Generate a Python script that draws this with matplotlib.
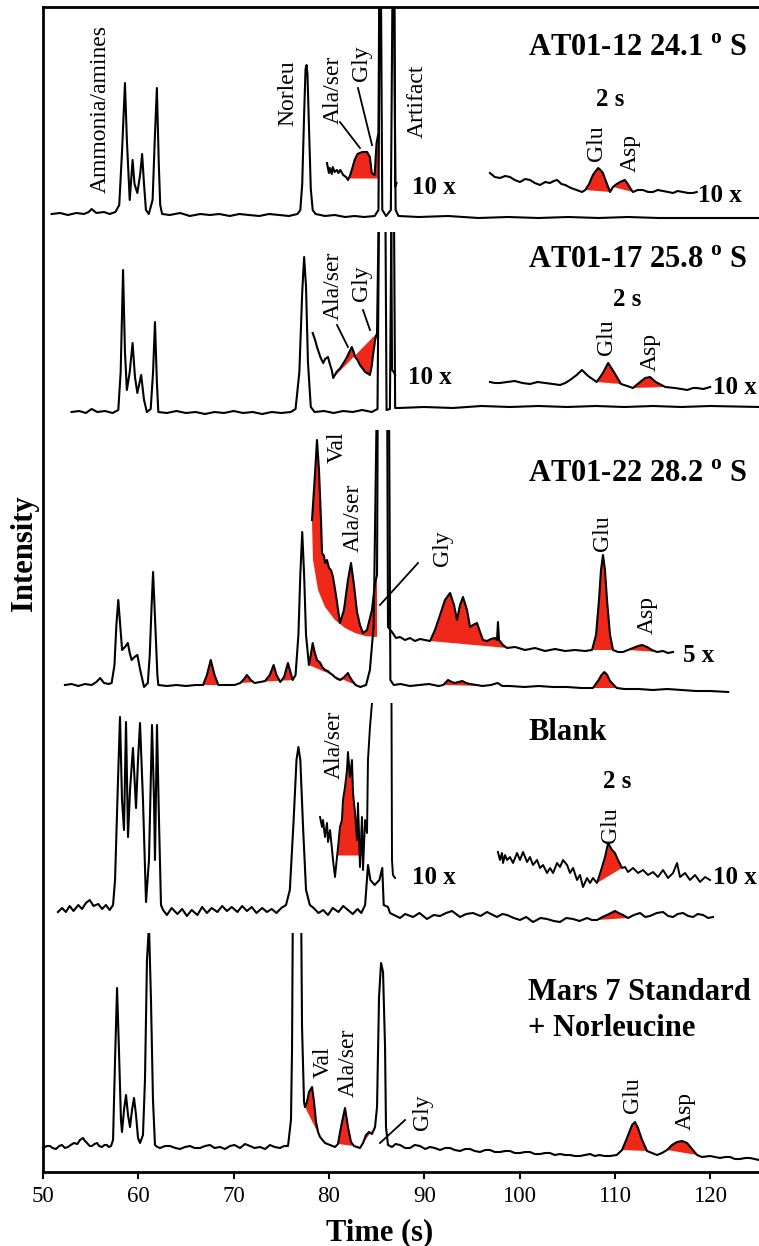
import numpy as np
import matplotlib.pyplot as plt
from matplotlib.patches import Rectangle

plt.rcParams['font.family'] = ['Liberation Serif', 'DejaVu Serif']
plt.rcParams['mathtext.fontset'] = 'custom'
plt.rcParams['mathtext.rm'] = 'Liberation Serif'
plt.rcParams['mathtext.bf'] = 'Liberation Serif:bold'

RED = '#f0281a'

# %% data: (retention time s, signal above the trace's own baseline, a.u.)

# AT01-12 24.1 S
p1_main = [(50.9, 0), (51.8, 1), (52.6, -1), (53.5, 1), (54.3, 0), (54.8, 2), (55.1, 5), (55.6, 1), (56.4, 2),
           (57.0, 0), (57.6, 2), (58.0, 9), (58.3, 64), (58.6, 131), (58.8, 74), (59.1, 14), (59.4, 54), (59.6, 30),
           (59.9, 21), (60.2, 40), (60.4, 60), (60.6, 30), (60.8, 4), (61.1, 0), (61.5, 14), (61.75, 80), (61.95, 126),
           (62.15, 50), (62.3, 9), (62.5, 0), (63.3, -1), (64.4, 1), (65.4, -2), (66.5, 0), (67.5, -1), (68.5, 0),
           (69.6, -2), (70.6, 0), (71.6, -1), (72.7, -2), (73.7, 0), (74.8, -1), (75.8, -2), (76.7, 0), (77.0, 4),
           (77.2, 30), (77.4, 100), (77.55, 145), (77.65, 149), (77.75, 140), (77.9, 90), (78.1, 25), (78.3, 4),
           (78.6, 0), (79.6, -2), (80.6, -1), (81.7, -3), (82.7, -2), (83.7, -3), (84.8, -2), (85.2, 4), (85.4, 330),
           (85.6, 4), (86.0, -2), (86.5, 4), (86.75, 330), (87.0, 4), (87.3, -2), (89.4, -3), (92.5, -2), (95.7, -4),
           (98.8, -3), (102.0, -4), (105.1, -3), (108.3, -4), (111.4, -3), (114.6, -4), (117.7, -4), (120.9, -4),
           (125.2, -4)]
p1_ins_left = [(79.8, 15), (80.0, 5), (80.1, 10), (80.3, 4), (80.4, 11), (80.6, 6), (80.85, 8), (81.0, 5), (81.2, 8),
               (81.5, 3), (81.8, 1), (82.0, -2), (82.2, 2), (82.4, 8), (82.7, 18), (83.0, 24), (83.5, 26), (84.0, 26),
               (84.3, 21), (84.5, 5), (84.8, 3), (85.0, 35), (85.2, 45), (85.4, 400), (86.8, 400), (86.95, -9),
               (87.1, -5)]
p1_ins_right = [(96.9, 19), (97.4, 15), (97.95, 14), (98.5, 16), (99.0, 15), (99.5, 12), (100.05, 10), (100.6, 13),
                (101.1, 12), (101.6, 9), (102.15, 7), (102.7, 10), (103.2, 9), (103.6, 11), (103.95, 12), (104.4, 8),
                (104.8, 7), (105.4, 4), (106.0, 2), (106.55, 0), (106.9, 2), (107.3, 8), (107.7, 17), (108.0, 21),
                (108.25, 24), (108.5, 22), (108.75, 19), (109.1, 10), (109.5, 0), (109.8, 5), (110.2, 8), (110.55, 10),
                (110.8, 11), (111.05, 12), (111.3, 9), (111.6, 4), (111.9, 0), (112.4, 2), (112.95, 2), (113.5, 0),
                (114.0, 0), (114.5, 2), (115.05, 1), (115.6, 0), (116.1, -1), (116.6, 1), (117.15, 0), (117.7, -1),
                (118.2, -1), (118.6, 0)]

# AT01-17 25.8 S
p2_main = [(53.0, 0), (53.8, 1), (54.5, -1), (55.1, 3), (55.7, 0), (56.5, 1), (57.3, -1), (57.9, 2), (58.15, 40),
           (58.4, 142), (58.6, 60), (58.8, 22), (59.1, 40), (59.4, 69), (59.65, 35), (59.9, 19), (60.1, 28), (60.3, 37),
           (60.6, 12), (60.9, 0), (61.3, 3), (61.55, 40), (61.75, 90), (61.95, 30), (62.1, 0), (63.0, -1), (64.0, 1),
           (65.0, -1), (66.0, 0), (67.0, -2), (68.0, 0), (69.0, -1), (70.0, 1), (71.0, -1), (72.0, 0), (73.0, -2),
           (74.0, 0), (75.0, -1), (76.0, 0), (76.5, 3), (76.9, 40), (77.2, 120), (77.4, 155), (77.6, 125), (77.8, 50),
           (78.1, 5), (78.5, 0), (79.5, 1), (80.5, -1), (81.5, 1), (82.5, 0), (83.5, 2), (84.5, 0), (85.1, 3),
           (85.3, 250), (85.9, 250), (86.05, 2), (86.4, 3), (86.6, 250), (86.8, 250), (86.95, 4), (87.3, 4), (90.0, 5),
           (93.0, 4), (96.0, 6), (99.0, 5), (102.0, 6), (105.0, 5), (108.0, 6), (111.0, 5), (114.0, 6), (117.0, 5),
           (120.0, 6), (125.2, 5)]
p2_ins_left = [(78.3, 45), (78.55, 38), (78.75, 31), (79.1, 21), (79.4, 15), (79.6, 19), (79.9, 21), (80.1, 14),
               (80.3, 8), (80.45, 0), (80.8, 6), (81.2, 10), (81.6, 16), (81.9, 21), (82.2, 27), (82.4, 31), (82.6, 26),
               (82.75, 21), (83.0, 18), (83.25, 13), (83.5, 10), (83.8, 6), (84.0, 5), (84.3, 3), (84.5, 12), (84.6, 21),
               (84.85, 38), (85.05, 45), (85.35, 250), (86.5, 250), (86.62, 8), (86.8, 6), (86.95, 3)]
p2_ins_right = [(96.9, 3), (97.4, 2), (97.95, 2), (98.7, 3), (99.5, 4), (100.3, 2), (101.1, 1), (101.9, 3),
                (102.7, 2), (103.5, 1), (104.25, 0), (104.8, 2), (105.3, 5), (106.0, 10), (106.55, 15), (107.2, 9),
                (108.1, 3), (108.75, 12), (109.3, 22), (109.9, 13), (110.65, 1), (111.3, -1), (111.9, -3), (112.65, 3),
                (113.2, 7), (113.7, 8), (114.3, 3), (115.3, -2), (116.3, -3), (117.0, -4), (117.6, -5), (118.2, -3),
                (118.6, -3), (119.3, -4), (120.0, -2)]

# AT01-22 28.2 S (1x and 5x)
p3_main = [(52.3, 0), (53.0, 1), (53.7, -1), (54.4, 1), (55.1, 0), (55.6, 3), (56.0, 7), (56.4, 2), (56.9, 1),
           (57.2, 2), (57.5, 20), (57.7, 60), (57.9, 85), (58.1, 60), (58.3, 35), (58.6, 38), (58.9, 42), (59.1, 32),
           (59.3, 25), (59.6, 28), (59.9, 30), (60.2, 15), (60.6, -2), (61.0, 2), (61.2, 30), (61.4, 80), (61.55, 113),
           (61.7, 80), (61.85, 45), (62.0, 10), (62.1, 0), (63.0, -1), (64.0, 0), (65.0, -1), (66.0, 0), (66.8, 0),
           (67.2, 10), (67.6, 25), (68.0, 10), (68.4, 0), (69.3, 0), (70.1, 0), (70.7, 2), (71.1, 6), (71.4, 10),
           (71.8, 5), (72.2, 2), (72.8, 3), (73.3, 4), (73.8, 10), (74.2, 20), (74.5, 10), (74.9, 3), (75.3, 8),
           (75.7, 22), (76.0, 12), (76.2, 5), (76.5, 10), (76.8, 50), (77.0, 110), (77.2, 153), (77.4, 110),
           (77.6, 50), (77.9, 20), (78.1, 30), (78.3, 42), (78.5, 33), (78.75, 25), (79.1, 22), (79.3, 18), (79.6, 15),
           (79.9, 14), (80.1, 12), (80.4, 10), (80.6, 8), (80.9, 6), (81.2, 5), (81.6, 8), (82.0, 12), (82.2, 8),
           (82.4, 5), (82.8, 0), (83.3, -2), (83.9, 0), (84.3, 15), (84.7, 60), (85.05, 300), (86.3, 300), (86.45, 5),
           (86.8, 0), (87.5, 1), (88.5, -1), (89.5, 0), (90.5, 1), (91.5, -1), (92.0, 0), (92.5, 5), (92.9, 3),
           (93.2, 2), (93.6, 3), (94.0, 4), (94.4, 2), (94.8, 1), (95.5, 0), (96.1, -1), (97.0, 0), (97.7, 2),
           (98.2, -1), (99.0, -1), (100.5, -2), (102.0, -1), (103.5, -2), (105.0, -2), (106.5, -3), (107.7, -3),
           (108.3, 5), (108.6, 10), (108.9, 13), (109.2, 10), (109.5, 4), (110.2, -3), (111.0, -4), (112.5, -4),
           (114.0, -5), (115.5, -4), (117.0, -5), (118.5, -6), (120.0, -6), (121.9, -7)]
p3_x5 = [(78.23, 130), (78.33, 145), (78.5, 170), (78.75, 210), (78.96, 180), (79.17, 130), (79.28, 97), (79.49, 94),
         (79.59, 87), (79.8, 90), (80.01, 82), (80.22, 80), (80.43, 73), (80.74, 55), (81.16, 27), (81.58, 40),
         (82.0, 70), (82.32, 87), (82.63, 65), (82.95, 38), (83.26, 25), (83.58, 17), (84.0, 20), (84.52, 40),
         (84.84, 67), (85.05, 75), (85.15, 300), (86.1, 300), (86.2, 23), (86.62, 18), (87.04, 12), (87.46, 13),
         (87.99, 10), (88.51, 12), (89.03, 9), (89.56, 11), (90.08, 10), (90.61, 9), (91.13, 20), (91.66, 35),
         (92.18, 50), (92.71, 57), (93.13, 45), (93.44, 30), (93.76, 45), (94.07, 53), (94.49, 40), (94.81, 23),
         (95.12, 25), (95.54, 27), (95.86, 18), (96.17, 10), (96.59, 9), (97.01, 11), (97.43, 12), (97.64, 10),
         (97.74, 28), (97.85, 10), (98.27, 5), (98.69, 2), (99.53, 3), (100.58, 0), (101.63, 2), (102.68, -1),
         (103.73, 1), (104.78, -1), (105.82, 0), (106.87, -1), (107.61, 0), (108.03, 15), (108.34, 50), (108.55, 80),
         (108.76, 95), (108.97, 80), (109.18, 50), (109.5, 15), (109.81, 0), (110.34, -2), (110.86, -2), (111.39, 0),
         (111.91, 2), (112.44, 4), (112.86, 5), (113.38, 3), (113.9, 0), (114.43, -2), (115.06, -1), (115.58, -3),
         (116.11, -2)]
# tail of the unresolved peak under Val / Ala/ser / Gly (5x trace)
p3_x5_tail = [(78.23, 127), (78.33, 90), (78.86, 60), (79.59, 43), (80.64, 30), (81.69, 22), (82.74, 17),
              (83.79, 14), (85.05, 13)]

# Blank
p4_main = [(51.57, -2), (52.0, 2), (52.4, -2), (52.8, 4), (53.2, -1), (53.7, 5), (54.1, 1), (54.5, 7), (54.9, 10),
           (55.3, 4), (55.8, 6), (56.2, 1), (56.6, 5), (57.0, 0), (57.35, 5), (57.56, 30), (57.87, 130), (58.08, 193),
           (58.29, 110), (58.5, 80), (58.71, 188), (58.92, 73), (59.13, 120), (59.44, 162), (59.76, 102), (59.97, 150),
           (60.18, 187), (60.49, 110), (60.81, 8), (61.12, 50), (61.44, 185), (61.65, 110), (61.75, 50), (61.96, 185),
           (62.17, 90), (62.38, 5), (62.6, 0), (63.0, -5), (63.5, 2), (64.1, -4), (64.6, 1), (65.1, -6), (65.6, 0),
           (66.2, -5), (66.7, 3), (67.2, -3), (67.7, 2), (68.3, -2), (68.8, 4), (69.3, -1), (69.8, 3), (70.4, -2),
           (70.9, 4), (71.4, -1), (71.9, 3), (72.4, -3), (73.0, 2), (73.5, -2), (74.0, 1), (74.5, -3), (75.0, 2),
           (75.5, 5), (75.9, 20), (76.3, 90), (76.6, 150), (76.8, 163), (77.0, 150), (77.3, 80), (77.6, 20), (78.0, 5),
           (78.4, 2), (78.9, -3), (79.4, 0), (79.9, -5), (80.4, 2), (81.0, -2), (81.5, 4), (82.0, 0), (82.5, -4),
           (83.0, 1), (83.4, -3), (83.8, 5), (84.1, 45), (84.35, 30), (84.8, 25), (85.3, 30), (85.6, 42), (85.75, 5),
           (86.2, 3), (86.41, -3), (87.46, -8), (88.0, -4), (88.83, -7), (89.5, -3), (90.29, -9), (91.0, -5),
           (91.66, -6), (92.3, -3), (92.92, -1), (93.76, -7), (94.4, -4), (95.12, -3), (95.9, -6), (96.59, -2),
           (97.64, -7), (98.2, -4), (98.69, -5), (99.4, -8), (100.05, -10), (100.7, -7), (101.42, -12), (102.2, -8),
           (102.89, -9), (103.6, -11), (104.25, -12), (104.9, -8), (105.62, -9), (106.3, -11), (107.09, -8),
           (107.6, -10), (108.13, -10), (108.7, -7), (109.18, -5), (109.6, -3), (110.02, -1), (110.4, -3),
           (110.86, -5), (111.39, -8), (112.0, -5), (112.65, -3), (113.2, -7), (113.69, -6), (114.4, -3), (115.06, -2),
           (115.6, -6), (116.11, -7), (116.6, -4), (117.16, -3), (117.7, -6), (118.21, -7), (118.7, -4), (119.26, -5),
           (119.8, -8), (120.3, -7)]
p4_ins_left = [(79.07, 38), (79.28, 28), (79.38, 35), (79.59, 18), (79.8, 32), (79.91, 13), (80.12, 25), (80.33, 5),
               (80.43, -5), (80.64, -22), (80.85, -2), (80.96, 8), (81.16, 28), (81.37, 35), (81.48, 55), (81.69, 68),
               (81.9, 85), (82.0, 103), (82.21, 78), (82.42, 95), (82.53, 62), (82.74, 42), (82.95, 15), (83.05, 52),
               (83.26, -12), (83.47, 38), (83.58, -15), (83.79, 35), (84.0, 22), (84.1, 95), (84.31, 128),
               (84.52, 152), (84.63, 300), (86.52, 300), (86.62, -5), (86.72, -20), (86.94, -23)]
p4_ins_right = [(97.74, 23), (97.95, 15), (98.16, 22), (98.27, 12), (98.48, 20), (98.69, 15), (99.0, 18), (99.32, 12),
                (99.74, 22), (100.05, 15), (100.37, 23), (100.79, 13), (101.1, 18), (101.42, 10), (101.84, 15),
                (102.15, 7), (102.47, 10), (102.89, 2), (103.2, 7), (103.52, 2), (103.94, 12), (104.25, 8),
                (104.57, 15), (104.99, 10), (105.3, 2), (105.62, 7), (106.03, -5), (106.35, 0), (106.66, -12),
                (107.09, -3), (107.4, -8), (107.71, -3), (108.13, -8), (108.66, 8), (108.97, 18), (109.29, 32),
                (109.71, 25), (110.02, 22), (110.34, 15), (110.76, 7), (111.07, 8), (111.39, 3), (111.91, 7),
                (112.44, 2), (112.96, 5), (113.48, 0), (114.01, 3), (114.53, -2), (115.06, 5), (115.58, -3),
                (116.11, 2), (116.53, 12), (116.84, -2), (117.37, 2), (117.89, -5), (118.42, 0), (118.94, -7),
                (119.47, -2), (119.99, -5)]

# Mars 7 Standard + Norleucine
p5_main = [(50.0, -1), (50.4, 1), (50.73, 1), (51.0, -1), (51.36, -2), (51.7, 1), (51.99, 2), (52.3, -1), (52.62, 0),
           (52.9, 2), (53.25, 4), (53.6, 3), (53.88, 7), (54.2, 9), (54.4, 6), (54.62, 4), (54.9, 1), (55.14, 1),
           (55.4, 3), (55.67, 4), (55.9, 1), (56.19, 0), (56.45, 2), (56.72, 2), (56.9, 0), (57.14, 1), (57.35, 7),
           (57.56, 87), (57.77, 159), (57.97, 97), (58.18, 27), (58.29, 15), (58.5, 37), (58.71, 52), (58.92, 32),
           (59.13, 20), (59.34, 37), (59.55, 49), (59.76, 32), (59.97, 9), (60.18, 4), (60.49, 12), (60.7, 67),
           (60.91, 187), (61.12, 222), (61.33, 147), (61.54, 47), (61.75, 2), (62.0, 0), (62.28, -1), (62.8, 1),
           (63.33, 1), (63.9, -1), (64.38, -2), (64.9, 0), (65.43, 1), (65.9, -1), (66.47, -1), (67.0, 1), (67.52, 2),
           (68.0, -1), (68.57, 0), (69.1, -2), (69.62, 1), (70.1, 2), (70.67, -1), (71.2, 3), (71.72, 1), (72.2, -1),
           (72.77, 0), (73.3, -2), (73.82, 2), (74.3, 0), (74.87, -1), (75.3, 1), (75.71, 1), (76.02, 27),
           (76.13, 97), (76.23, 260), (77.07, 260), (77.18, 120), (77.39, 45), (77.49, 40), (77.7, 45), (77.91, 55),
           (78.23, 60), (78.44, 45), (78.65, 25), (78.86, 15), (79.07, 10), (79.59, 4), (80.12, 2), (80.64, 0),
           (80.95, 3), (81.27, 20), (81.69, 39), (82.0, 20), (82.32, 5), (82.63, 1), (82.95, 0), (83.26, -1),
           (83.58, 4), (83.89, 12), (84.21, 15), (84.52, 13), (84.84, 20), (85.05, 40), (85.26, 150), (85.47, 184),
           (85.68, 175), (85.89, 100), (85.99, 20), (86.2, 2), (86.62, 0), (87.0, 3), (87.46, 2), (88.0, -1),
           (88.51, -1), (89.0, 2), (89.56, 1), (90.1, -2), (90.61, 0), (91.1, -1), (91.66, -3), (92.2, -1),
           (92.71, -1), (93.2, -3), (93.76, -4), (94.3, -2), (94.81, -2), (95.3, -4), (95.86, -5), (96.4, -3),
           (96.91, -3), (97.4, -5), (97.95, -5), (98.5, -4), (99.0, -4), (99.5, -6), (100.05, -6), (100.6, -5),
           (101.1, -5), (101.6, -7), (102.15, -7), (102.7, -6), (103.2, -6), (103.7, -8), (104.25, -7), (104.8, -8),
           (105.3, -8), (105.8, -9), (106.35, -9), (106.9, -8), (107.4, -7), (107.9, -9), (108.4, -8), (108.9, -9),
           (109.5, -9), (110.2, -8), (110.76, -3), (111.28, 9), (111.81, 22), (112.12, 25), (112.43, 19),
           (112.86, 7), (113.38, -4), (113.9, -6), (114.43, -8), (114.95, -6), (115.48, -3), (116.0, 2), (116.53, 5),
           (117.05, 6), (117.58, 4), (118.1, -2), (118.63, -8), (119.15, -10), (119.99, -9), (120.5, -10),
           (121.04, -11), (121.6, -10), (122.09, -10), (122.6, -12), (123.14, -12), (123.7, -11), (124.19, -11),
           (125.13, -13)]

ticks = [50, 60, 70, 80, 90, 100, 110, 120]

# %% figure
fig = plt.figure(figsize=(7.59, 12.46), dpi=100)
ax = fig.add_axes([43 / 759, 74 / 1246, 716 / 759, 1165 / 1246])
ax.set_xlim(50, 125.13)
ax.set_ylim(0, 1165)

LW = 1.5


def trace(pts, off, top=None, lw=LW):
    t, h = np.array(pts, float).T
    line, = ax.plot(t, off + h, color='k', lw=lw, zorder=3, solid_joinstyle='round')
    if top is not None:
        line.set_clip_path(Rectangle((45, 0), 90, top, transform=ax.transData))
    return t, h


def shade(pts, off, lo, hi, floor=False):
    t, h = np.array(pts, float).T
    m = (t >= lo) & (t <= hi)
    if floor:
        ax.fill_between(t[m], off, off + np.clip(h[m], 0, None), color=RED, lw=0, zorder=2)
    else:
        ax.fill(t[m], off + h[m], color=RED, lw=0, zorder=2)


# panel 1
trace(p1_main, 958)
trace(p1_ins_left, 994)
trace(p1_ins_right, 980)
shade(p1_ins_left, 994, 82.0, 85.2, floor=True)
shade(p1_ins_right, 980, 106.9, 109.5)
shade(p1_ins_right, 980, 109.8, 111.9)

# panel 2
trace(p2_main, 760, top=940)
trace(p2_ins_left, 794, top=940)
trace(p2_ins_right, 787)
shade(p2_ins_left, 794, 80.45, 85.1)
shade(p2_ins_right, 787, 108.1, 110.65)
shade(p2_ins_right, 787, 111.9, 115.3)

# panel 3
trace(p3_main, 487, top=742)
trace(p3_x5, 522, top=742)
for lo, hi in [(66.8, 68.4), (70.6, 76.2), (77.9, 82.8), (92.0, 96.1), (107.7, 110.2)]:
    shade(p3_main, 487, lo, hi)
t5, h5 = np.array(p3_x5, float).T
m5 = (t5 >= 78.2) & (t5 <= 85.1)
tt, th = np.array(p3_x5_tail, float).T
ax.fill(np.r_[t5[m5], tt[::-1]], 522 + np.r_[h5[m5], th[::-1]], color=RED, lw=0, zorder=2)
for lo, hi in [(90.6, 98.7), (107.6, 109.85), (111.35, 114.45)]:
    shade(p3_x5, 522, lo, hi)

# panel 4
trace(p4_main, 262, top=469)
trace(p4_ins_left, 317, top=469, lw=1.4)
trace(p4_ins_right, 297, lw=1.4)
shade(p4_main, 262, 108.1, 111.4)
shade(p4_ins_left, 317, 80.85, 83.5, floor=True)
shade(p4_ins_right, 297, 108.1, 110.8)

# panel 5
trace(p5_main, 25, top=239)
for lo, hi in [(77.45, 79.1), (80.9, 82.65), (83.5, 84.85), (110.7, 113.4), (115.45, 118.65)]:
    shade(p5_main, 25, lo, hi)

# %% labels
def lbl(t, y, s, size=17):
    ax.text(t, y, s, rotation=90, ha='center', va='center', fontsize=size, zorder=4)


def bold(t, y, s, size=22, ha='left'):
    ax.text(t, y, s, ha=ha, va='center', fontsize=size, fontweight='bold', zorder=4)


def lead(x1, y1, x2, y2):
    ax.plot([x1, x2], [y1, y2], color='k', lw=1.3, zorder=4)


lbl(55.98, 1063, 'Ammonia/amines')
lbl(75.71, 1079, 'Norleu')
lbl(80.43, 1082, 'Ala/ser')
lbl(83.47, 1109, 'Gly')
lbl(89.24, 1071, 'Artifact')
lead(81.16, 1050, 83.26, 1024)
lead(83.05, 1084, 84.52, 1027)
bold(100.89, 1124, r'AT01-12 24.1 $^{\mathbf{o}}$ S')
bold(109.5, 1072, '2 s', 18, 'center')
lbl(108.13, 1029, 'Glu')
lbl(111.6, 1019, 'Asp')
bold(88.72, 984, '10 x', 18)
bold(118.73, 976, '10 x', 18)

lbl(80.43, 886, 'Ala/ser')
lbl(83.47, 889, 'Gly')
lead(80.85, 847, 82.0, 825)
lead(83.58, 862, 84.31, 842)
bold(100.89, 911, r'AT01-17 25.8 $^{\mathbf{o}}$ S')
bold(111.28, 873, '2 s', 18, 'center')
lbl(109.18, 835, 'Glu')
lbl(113.69, 820, 'Asp')
bold(88.3, 795, '10 x', 18)
bold(120.3, 784, '10 x', 18)

lbl(80.85, 725, 'Val')
lbl(82.53, 654, 'Ala/ser')
lbl(91.87, 624, 'Gly')
lead(85.36, 567, 89.35, 609)
bold(100.89, 697, r'AT01-22 28.2 $^{\mathbf{o}}$ S')
lbl(108.66, 639, 'Glu')
lbl(113.38, 557, 'Asp')
bold(117.16, 517, '5 x', 18)

lbl(80.54, 427, 'Ala/ser')
bold(100.89, 440, 'Blank')
bold(110.23, 390, '2 s', 18, 'center')
lbl(109.5, 347, 'Glu')
bold(88.72, 294, '10 x', 18)
bold(120.3, 294, '10 x', 18)

lbl(79.38, 110, 'Val')
lbl(82.0, 109, 'Ala/ser')
lbl(89.87, 60, 'Gly')
lead(85.36, 29, 87.99, 52)
lbl(111.81, 77, 'Glu')
lbl(117.37, 61, 'Asp')
bold(100.89, 179, 'Mars 7 Standard')
bold(100.89, 144, '+ Norleucine')

# %% axes styling
ax.spines['right'].set_visible(False)
for s in ['left', 'top', 'bottom']:
    ax.spines[s].set_linewidth(2.0)
ax.set_yticks([])
ax.set_xticks(ticks)
ax.tick_params(axis='x', direction='out', length=5, width=1.5, labelsize=16.5, pad=5)
fig.text(380 / 759, 1 - 1233 / 1246, 'Time (s)', ha='center', va='center', fontsize=22, fontweight='bold')
fig.text(25 / 759, 1 - 553 / 1246, 'Intensity', ha='center', va='center', rotation=90, fontsize=22,
         fontweight='bold')

fig.savefig('out.png', dpi=100)
